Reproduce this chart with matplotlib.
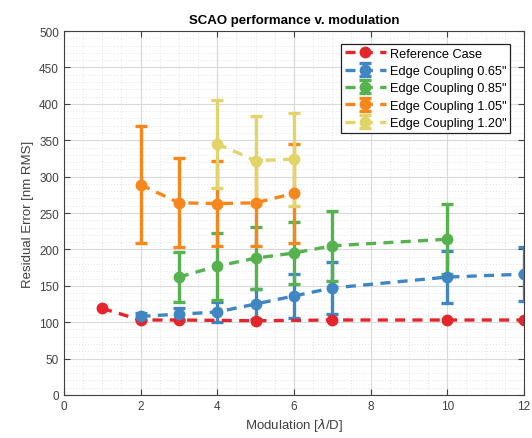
import matplotlib.pyplot as plt
from matplotlib.ticker import MultipleLocator

plt.rcParams['font.family'] = ['Liberation Sans', 'DejaVu Sans']

# Reference case
ref_x = [1, 2, 3, 5, 7, 10, 12]
ref_y = [119, 103, 103, 102, 103, 103, 103]

# Edge coupling 0.65"
ec065_x = [2, 3, 4, 5, 6, 7, 10, 12]
ec065_y = [108, 111, 114, 125, 136, 147, 162, 166]
ec065_err = [5, 8, 14, 21, 30, 36, 36, 37]

# Edge coupling 0.85"
ec085_x = [3, 4, 5, 6, 7, 10]
ec085_y = [162, 177, 188, 195, 205, 214]
ec085_err = [34, 46, 43, 43, 48, 48]

# Edge coupling 1.05"
ec105_x = [2, 3, 4, 5, 6]
ec105_y = [289, 264, 263, 264, 277]
ec105_err = [80, 61, 59, 59, 68]

# Edge coupling 1.20"
ec120_x = [4, 5, 6]
ec120_y = [345, 322, 324]
ec120_err = [60, 61, 64]

labels = ['Reference Case', 'Edge Coupling 0.65"', 'Edge Coupling 0.85"',
          'Edge Coupling 1.05"', 'Edge Coupling 1.20"']
colors = ['#e4262c', '#3f86c3', '#55b24f', '#f7861c', '#e3d46a']

fig = plt.figure(figsize=(5.32, 4.39), dpi=100)
ax = fig.add_axes([0.120, 0.098, 0.865, 0.829])

series = [
    (ref_x, ref_y, None),
    (ec065_x, ec065_y, ec065_err),
    (ec085_x, ec085_y, ec085_err),
    (ec105_x, ec105_y, ec105_err),
    (ec120_x, ec120_y, ec120_err),
]

for (x, y, err), lab, c in zip(series, labels, colors):
    ax.errorbar(x, y, yerr=err, fmt='o', ls=(0, (3, 2.2)), color=c, lw=2.4,
                ms=7.5, elinewidth=2.4, capsize=4, capthick=2.4, label=lab)

ax.set_xlim(0, 12)
ax.set_ylim(0, 500)
ax.xaxis.set_major_locator(MultipleLocator(2))
ax.xaxis.set_minor_locator(MultipleLocator(0.5))
ax.yaxis.set_major_locator(MultipleLocator(50))
ax.yaxis.set_minor_locator(MultipleLocator(10))

ax.grid(which='major', color='#d9d9d9', lw=0.8)
ax.grid(which='minor', color='#dadada', lw=0.6, ls=(0, (1, 2.5)))
ax.set_axisbelow(True)

ax.tick_params(which='both', direction='in', top=True, right=True,
               labelsize=8.5, labelcolor='#404040', color='#404040')
ax.tick_params(which='minor', length=0)
ax.tick_params(which='major', length=4)
for s in ax.spines.values():
    s.set_color('#404040')
    s.set_linewidth(0.8)

ax.set_xlabel('Modulation [$\\lambda$/D]', fontsize=9.5, color='#404040', labelpad=3)
ax.set_ylabel('Residual Error [nm RMS]', fontsize=9.5, color='#404040', labelpad=4)
ax.set_title('SCAO performance v. modulation', fontsize=9.5, fontweight='bold', pad=6)

leg = ax.legend(loc='upper right', bbox_to_anchor=(0.97, 0.965), fontsize=9.2,
                fancybox=False, framealpha=1, edgecolor='#222222',
                handlelength=3.2, borderpad=0.3, labelspacing=0.42,
                handletextpad=0.3, borderaxespad=0)
leg.get_frame().set_linewidth(0.9)

plt.savefig('out.png', dpi=100)
